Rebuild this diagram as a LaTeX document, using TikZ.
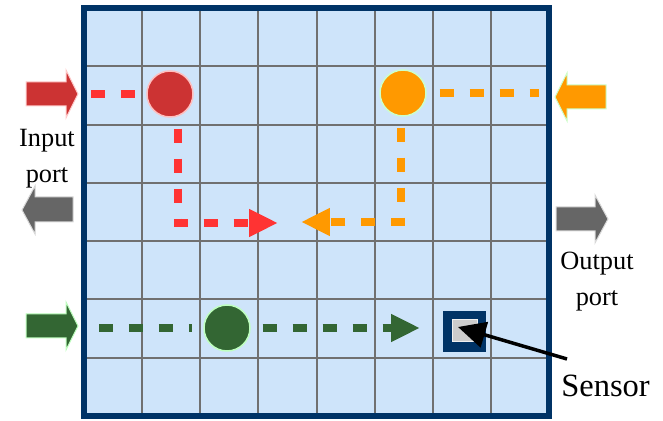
\documentclass[tikz,border=0pt]{standalone}
\usepackage{fontspec}
\setmainfont{Liberation Serif}
\usetikzlibrary{positioning,arrows.meta}
\definecolor{cellfill}{RGB}{206,228,250}
\definecolor{cellline}{RGB}{112,112,112}
\definecolor{navy}{RGB}{0,51,102}
\definecolor{portred}{RGB}{204,51,51}
\definecolor{flowred}{RGB}{255,51,51}
\definecolor{portorange}{RGB}{255,153,0}
\definecolor{portgreen}{RGB}{51,102,51}
\definecolor{portgray}{RGB}{102,102,102}
\definecolor{sensorgray}{RGB}{204,204,204}

\begin{document}
\begin{tikzpicture}[x=0.02cm,y=-0.02cm,
  packet/.style={circle,minimum size=0.92cm,inner sep=0pt,line width=0.03cm},
  flow/.style={line width=0.155cm,dash pattern=on 0.29cm off 0.31cm},
  flowtip/.style={-{Triangle[length=0.58cm,width=0.52cm]}},
  portarrow/.style={line width=0.02cm},
  portlbl/.style={font=\fontsize{15}{20.5}\selectfont,align=center,inner sep=0pt}]
\useasboundingbox (0,0) rectangle (663,421);
% grid
\fill[cellfill] (84,8) rectangle (549,416);
\foreach \i in {1,...,7}
  \draw[cellline,line width=0.04cm] ({84+\i*58.125},8) -- ({84+\i*58.125},416);
\foreach \j in {1,...,6}
  \draw[cellline,line width=0.04cm] (84,{8+\j*58.29}) -- (549,{8+\j*58.29});
\draw[navy,line width=0.12cm] (84,8) rectangle (549,416);
% ports
\filldraw[portarrow,fill=portred,draw=red!20] (26,82) -- (66,82) -- (66,70) -- (78,94) -- (66,118) -- (66,106) -- (26,106) -- cycle;
\filldraw[portarrow,fill=portgreen,draw=green!25] (26,314) -- (66,314) -- (66,302) -- (78,326) -- (66,350) -- (66,338) -- (26,338) -- cycle;
\filldraw[portarrow,fill=portgray,draw=gray!30] (73,197) -- (35,197) -- (35,186) -- (22,210) -- (35,234) -- (35,222) -- (73,222) -- cycle;
\filldraw[portarrow,fill=portorange,draw=green!20] (606,85) -- (567,85) -- (567,73) -- (555,97) -- (567,121) -- (567,109) -- (606,109) -- cycle;
\filldraw[portarrow,fill=portgray,draw=gray!30] (556,207) -- (595,207) -- (595,195) -- (608,219) -- (595,243) -- (595,231) -- (556,231) -- cycle;
% packets
\node[packet,fill=portred,draw=red!25] (red) at (170,94) {};
\node[packet,fill=portorange,draw=green!20] (orange) at (403,93) {};
\node[packet,fill=portgreen,draw=green!25] (green) at (227,328) {};
\node[fill=navy,minimum width=0.86cm,minimum height=0.82cm,inner sep=0pt] (sensor) at (464.5,331.5) {};
\node[fill=sensorgray,draw=white!70!sensorgray,line width=0.02cm,minimum width=0.5cm,minimum height=0.44cm,inner sep=0pt] (sensorcore) at (464.5,331) {};
% flows
\coordinate (redin) at (91,94);
\coordinate (redend) at (278,223);
\coordinate (orangein) at (539,93);
\coordinate (orangeend) at (301,222);
\coordinate (greenin) at (99,328);
\coordinate (greenend) at (420,328);
\draw[flowred,flow,shorten >=0.22cm] (redin) -- (red.west);
\draw[flowred,flow,flowtip,shorten <=0.22cm] ([xshift=0.16cm]red.south) |- (redend);
\draw[portorange,flow,shorten <=0.26cm] (orange.east) -- (orangein);
\draw[portorange,flow,flowtip,shorten <=0.22cm] ([xshift=-0.04cm]orange.south) |- (orangeend);
\draw[portgreen,flow,shorten >=0.22cm] (greenin) -- (green.west);
\draw[portgreen,flow,flowtip,shorten <=0.24cm] (green.east) -- (greenend);
% labels
\node[portlbl] (inlbl) at (47,159) {Input\\port};
\node[portlbl] (outlbl) at (597,282) {Output\\port};
\node[font=\fontsize{18.5}{22}\selectfont,anchor=base,inner sep=0pt] (sensorlbl) at (605.5,397) {Sensor};
\coordinate (sensortail) at (567,359);
\draw[line width=0.07cm,-{Triangle[length=0.55cm,width=0.52cm]}] (sensortail) -- ([xshift=-0.13cm,yshift=0.08cm]sensorcore.center);
\end{tikzpicture}
\end{document}
